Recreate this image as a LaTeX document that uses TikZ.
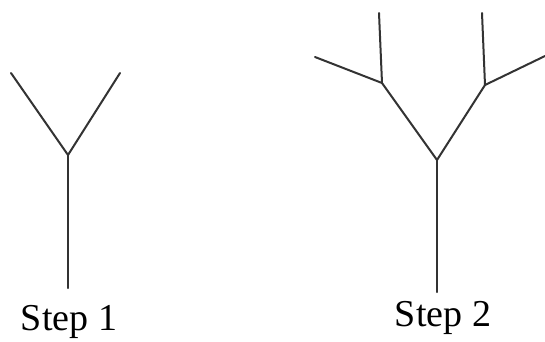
\documentclass[tikz,border=0pt]{standalone}
\usepackage{fontspec}
\setmainfont{Liberation Serif}
\usepackage{tikz}

\begin{document}
\begin{tikzpicture}[
  x=1pt, y=-1pt,
  branch/.style={draw=black!80, line width=2pt, line cap=round},
  caption/.style={font=\fontsize{38}{40}\selectfont, inner sep=0pt}
]
\useasboundingbox (0,0) rectangle (545,341);
% step 1
\coordinate (a0) at (68,288);
\coordinate (a1) at (68,155);
\coordinate (aL) at (11,73);
\coordinate (aR) at (120,73);
\draw[branch] (a0) -- (a1); \draw[branch] (a1) -- (aL); \draw[branch] (a1) -- (aR);
\node[caption] (s1) at (69,322) {Step 1};
% step 2
\coordinate (b0) at (437,292);
\coordinate (b1) at (437,160);
\coordinate (bL) at (382,83);
\coordinate (bR) at (485,85);
\coordinate (bLL) at (315,57);
\coordinate (bLU) at (379,13);
\coordinate (bRU) at (482,13);
\coordinate (bRR) at (545,56);
\draw[branch] (b0) -- (b1); \draw[branch] (b1) -- (bL); \draw[branch] (b1) -- (bR);
\draw[branch] (bL) -- (bLL); \draw[branch] (bL) -- (bLU);
\draw[branch] (bR) -- (bRU); \draw[branch] (bR) -- (bRR);
\node[caption] (s2) at (443,318) {Step 2};
\end{tikzpicture}
\end{document}
